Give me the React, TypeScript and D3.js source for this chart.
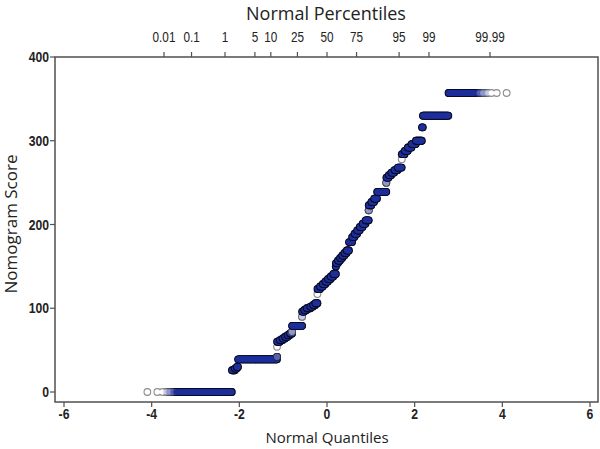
import React, { useMemo } from "react";
import * as d3 from "d3";

// Distinct nomogram score values and number of patients at each value
const scores = [0, 26, 28, 30, 39, 42, 54, 60, 62, 64, 66, 68, 70, 72, 79, 90, 96, 98, 100, 102, 104, 106, 117, 123, 126, 129, 132, 135, 138, 141, 150, 154, 157, 160, 163, 166, 169, 179, 185, 189, 193, 197, 201, 205, 217, 223, 227, 231, 239, 250, 256, 259, 262, 265, 268, 278, 284, 288, 292, 296, 300, 316, 330, 357];
const counts = [450, 80, 60, 45, 3178, 4, 1, 400, 450, 400, 450, 450, 394, 3, 2172, 2, 500, 600, 900, 700, 600, 558, 1, 700, 750, 700, 700, 750, 700, 692, 8, 550, 560, 550, 570, 560, 567, 726, 560, 570, 560, 570, 566, 570, 3, 440, 440, 440, 1158, 3, 250, 250, 270, 270, 277, 1, 170, 170, 170, 170, 185, 25, 347, 84];

const xTicks = [-6, -4, -2, 0, 2, 4, 6];
const yTicks = [0, 100, 200, 300, 400];
const percentileTicks = [0.01, 0.1, 1, 5, 10, 25, 50, 75, 95, 99, 99.99];
const percentileLabels = ["0.01", "0.1", "1", "5", "10", "25", "50", "75", "95", "99", "99.99"];

function invNorm(p: number): number {
  const a = [-3.969683028665376e1, 2.209460984245205e2, -2.759285104469687e2, 1.38357751867269e2, -3.066479806614716e1, 2.506628277459239];
  const b = [-5.447609879822406e1, 1.615858368580409e2, -1.556989798598866e2, 6.680131188771972e1, -1.328068155288572e1];
  const c = [-7.784894002430293e-3, -3.223964580411365e-1, -2.400758277161838, -2.549732539343734, 4.374664141464968, 2.938163982698783];
  const d = [7.784695709041462e-3, 3.224671290700398e-1, 2.445134137142996, 3.754408661907416];
  const plow = 0.02425;
  if (p < plow) {
    const q = Math.sqrt(-2 * Math.log(p));
    return (((((c[0] * q + c[1]) * q + c[2]) * q + c[3]) * q + c[4]) * q + c[5]) / ((((d[0] * q + d[1]) * q + d[2]) * q + d[3]) * q + 1);
  }
  if (p <= 1 - plow) {
    const q = p - 0.5;
    const r = q * q;
    return ((((((a[0] * r + a[1]) * r + a[2]) * r + a[3]) * r + a[4]) * r + a[5]) * q) / (((((b[0] * r + b[1]) * r + b[2]) * r + b[3]) * r + b[4]) * r + 1);
  }
  const q = Math.sqrt(-2 * Math.log(1 - p));
  return -(((((c[0] * q + c[1]) * q + c[2]) * q + c[3]) * q + c[4]) * q + c[5]) / ((((d[0] * q + d[1]) * q + d[2]) * q + d[3]) * q + 1);
}

const W = 600;
const H = 449;
const frame = { left: 55, right: 598, top: 57, bottom: 402 };
const R = 3.4;
const titleFont = "'Open Sans', 'Noto Sans', sans-serif";
const tickFont = "'Liberation Sans', Arial, sans-serif";
const NARROW = 0.84;

type Mark = { cx: number; cy: number; fill: string; stroke: string };

export default function App() {
  const x = d3.scaleLinear().domain([-6, 6]).range([64, 590]);
  const y = d3.scaleLinear().domain([0, 400]).range([392, 57]);

  const levels = useMemo(() => {
    const N = d3.sum(counts);
    const fillI = d3.interpolateRgb("#ffffff", "#1e2f9c");
    const strokeI = d3.interpolateRgb("#8c8c8c", "#0a0d26");
    const out: Mark[][] = [];
    let rank = 0;
    scores.forEach((s, li) => {
      const n = counts[li];
      const xs: number[] = [];
      for (let k = 0; k < n; k++) {
        rank += 1;
        const p = (rank - 0.375) / (N + 0.25);
        xs.push(x(invNorm(p)));
      }
      const cy = y(s);
      let lastX = -Infinity;
      const lv: Mark[] = [];
      for (let k = 0; k < n; k++) {
        const cx = xs[k];
        const lo = d3.bisectLeft(xs, cx - R);
        const hi = d3.bisectRight(xs, cx + R);
        const t = Math.max(0, Math.min(1, (hi - lo - 1) / 4));
        if (t < 1 || cx - lastX >= 0.5 || k === n - 1) {
          lv.push({ cx, cy, fill: fillI(t), stroke: strokeI(t) });
          lastX = cx;
        }
      }
      out.push(lv);
    });
    return out;
  }, []);

  return (
    <svg width={W} height={H} style={{ position: "absolute", left: 0, top: 0, background: "#fff" }}>
      <rect x={0} y={0} width={W} height={H} fill="#fff" />
      {/* frame */}
      <rect x={frame.left} y={frame.top} width={frame.right - frame.left} height={frame.bottom - frame.top} fill="none" stroke="#505050" strokeWidth={1.5} />

      {/* top percentile axis */}
      <text x={326} y={20} textAnchor="middle" fontFamily={titleFont} fontSize={18} fill="#222">Normal Percentiles</text>
      {percentileTicks.map((pc, i) => {
        const px = x(invNorm(pc / 100));
        return (
          <g key={"p" + i}>
            <line x1={px} x2={px} y1={frame.top} y2={frame.top - 5} stroke="#505050" strokeWidth={1.2} />
            <text transform={`translate(${px},42) scale(${NARROW},1)`} textAnchor="middle" fontFamily={tickFont} fontSize={14} fill="#222">{percentileLabels[i]}</text>
          </g>
        );
      })}

      {/* left axis */}
      {yTicks.map((v) => (
        <g key={"y" + v}>
          <line x1={frame.left} x2={frame.left - 5} y1={y(v)} y2={y(v)} stroke="#505050" strokeWidth={1.2} />
          <text transform={`translate(${frame.left - 6},${y(v) + 5}) scale(${NARROW},1)`} textAnchor="end" fontFamily={tickFont} fontWeight="bold" fontSize={14.5} fill="#222">{v}</text>
        </g>
      ))}
      <text transform={`translate(17,224) rotate(-90)`} textAnchor="middle" fontFamily={titleFont} fontSize={17} fill="#222">Nomogram Score</text>

      {/* bottom axis */}
      {xTicks.map((v) => (
        <g key={"x" + v}>
          <line x1={x(v)} x2={x(v)} y1={frame.bottom} y2={frame.bottom + 5} stroke="#505050" strokeWidth={1.2} />
          <text transform={`translate(${x(v)},419) scale(${NARROW},1)`} textAnchor="middle" fontFamily={tickFont} fontWeight="bold" fontSize={14.5} fill="#222">{v}</text>
        </g>
      ))}
      <text x={327} y={443} textAnchor="middle" fontFamily={titleFont} fontSize={15} fill="#222">Normal Quantiles</text>

      {/* points: per level, outline disks first then fills */}
      {levels.map((lv, li) => (
        <g key={"l" + li}>
          {lv.map((m, i) => (
            <circle key={"o" + i} cx={m.cx} cy={m.cy} r={R + 0.5} fill={m.stroke} />
          ))}
          {lv.map((m, i) => (
            <circle key={"f" + i} cx={m.cx} cy={m.cy} r={R - 0.6} fill={m.fill} />
          ))}
        </g>
      ))}
    </svg>
  );
}
